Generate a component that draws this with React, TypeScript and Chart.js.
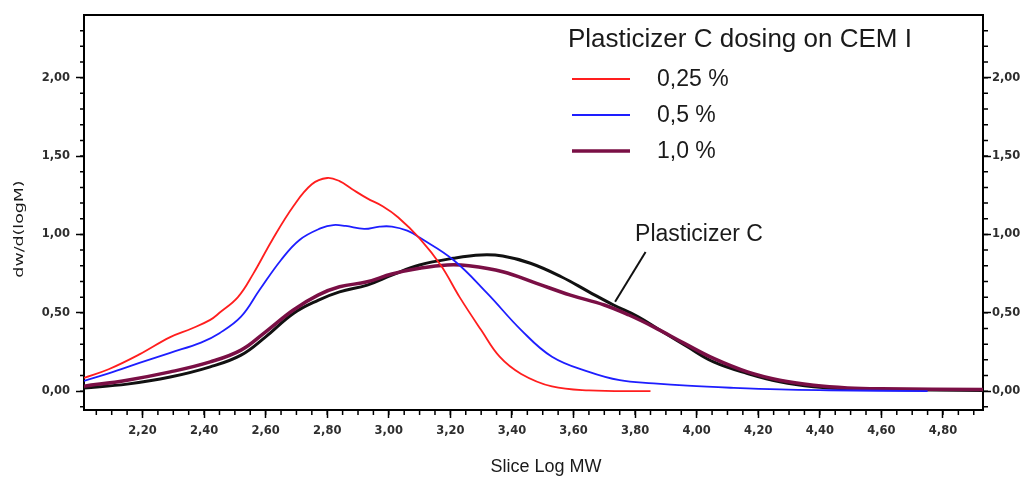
import React, { useEffect, useRef } from 'react';
import { Chart, registerables } from 'chart.js';

Chart.register(...registerables);

// Axis ranges (Slice Log MW on x, dw/d(logM) on y)
const X_MIN = 2.01;
const X_MAX = 4.93;
const Y_MIN = -0.12;
const Y_MAX = 2.4;

const xTickValues = [2.2, 2.4, 2.6, 2.8, 3.0, 3.2, 3.4, 3.6, 3.8, 4.0, 4.2, 4.4, 4.6, 4.8];
const yTickValues = [0, 0.5, 1.0, 1.5, 2.0];

// 0,25 % dosing
const logMW025 = [2.01, 2.09, 2.19, 2.29, 2.36, 2.42, 2.45, 2.51, 2.56, 2.62, 2.69, 2.75, 2.8, 2.84, 2.88, 2.93, 2.98, 3.03, 3.1, 3.17, 3.23, 3.3, 3.36, 3.43, 3.53, 3.65, 3.85];
const dw025 = [0.085, 0.14, 0.235, 0.345, 0.4, 0.455, 0.5, 0.6, 0.75, 0.96, 1.18, 1.32, 1.36, 1.34, 1.29, 1.23, 1.18, 1.11, 0.975, 0.8, 0.6, 0.39, 0.22, 0.11, 0.03, 0.005, 0.0];

// 0,5 % dosing
const logMW05 = [2.01, 2.09, 2.19, 2.29, 2.39, 2.45, 2.52, 2.58, 2.65, 2.71, 2.78, 2.82, 2.86, 2.92, 2.97, 3.01, 3.06, 3.1, 3.21, 3.32, 3.43, 3.53, 3.65, 3.75, 3.86, 3.97, 4.11, 4.27, 4.43, 4.75];
const dw05 = [0.066, 0.113, 0.18, 0.245, 0.31, 0.37, 0.475, 0.645, 0.837, 0.965, 1.04, 1.06, 1.054, 1.035, 1.05, 1.05, 1.024, 0.98, 0.837, 0.624, 0.39, 0.22, 0.123, 0.07, 0.05, 0.035, 0.022, 0.011, 0.006, 0.0];

// 1,0 % dosing
const logMW10 = [2.01, 2.15, 2.29, 2.42, 2.52, 2.6, 2.69, 2.77, 2.84, 2.93, 3.01, 3.1, 3.19, 3.26, 3.37, 3.48, 3.59, 3.7, 3.78, 3.86, 3.96, 4.055, 4.165, 4.27, 4.38, 4.49, 4.6, 4.93];
const dw10 = [0.032, 0.07, 0.123, 0.187, 0.262, 0.379, 0.518, 0.613, 0.666, 0.698, 0.748, 0.784, 0.805, 0.8, 0.762, 0.688, 0.613, 0.55, 0.486, 0.41, 0.305, 0.209, 0.123, 0.07, 0.038, 0.021, 0.015, 0.01];

// Plasticizer C reference
const logMWRef = [2.01, 2.15, 2.29, 2.42, 2.52, 2.6, 2.69, 2.77, 2.84, 2.93, 3.01, 3.1, 3.21, 3.3, 3.37, 3.46, 3.56, 3.65, 3.73, 3.81, 3.88, 3.97, 4.055, 4.165, 4.27, 4.38, 4.49, 4.6, 4.93];
const dwRef = [0.02, 0.045, 0.09, 0.155, 0.23, 0.347, 0.496, 0.58, 0.634, 0.677, 0.74, 0.805, 0.848, 0.869, 0.862, 0.816, 0.73, 0.634, 0.55, 0.475, 0.39, 0.283, 0.187, 0.113, 0.06, 0.028, 0.015, 0.01, 0.005];

const legendTitle = 'Plasticizer C dosing on CEM I';
const seriesLabels = ['0,25 %', '0,5 %', '1,0 %'];
const refLabel = 'Plasticizer C';
const xTitle = 'Slice Log MW';
const yTitle = 'dw/d(logM)';

// Callout: label anchor and leader line, in data units
const calloutText = { x: 3.8, y: 0.958 };
const calloutFrom = { x: 3.834, y: 0.888 };
const calloutTo = { x: 3.735, y: 0.57 };

const RED = '#ff1e1e';
const BLUE = '#1e1eff';
const MAROON = '#7a0f45';
const BLACK = '#111111';

const TICK_FONT = { family: '"DejaVu Sans", sans-serif', size: 11.5, weight: 'bold' as const };
const TICK_COLOR = '#2e2e2e';
const TEXT_FONT = '"Liberation Sans", Arial, sans-serif';

const pts = (xs: number[], ys: number[]) => xs.map((x, i) => ({ x, y: ys[i] }));
const fmt = (v: number) => Number(v).toFixed(2).replace('.', ',');

const decorPlugin = {
  id: 'decor',
  afterDraw(chart: any) {
    const { ctx, chartArea: a, scales } = chart;
    const xs = scales.x;
    const ys = scales.y;
    ctx.save();

    // minor tick marks
    ctx.strokeStyle = '#000';
    ctx.lineWidth = 1.5;
    ctx.beginPath();
    for (let k = 41; k * 0.05 <= X_MAX + 1e-9; k++) {
      const px = xs.getPixelForValue(k * 0.05);
      ctx.moveTo(px, a.bottom);
      ctx.lineTo(px, a.bottom + 5);
    }
    for (let k = -1; k * 0.1 <= Y_MAX - 0.05; k++) {
      const py = ys.getPixelForValue(k * 0.1);
      ctx.moveTo(a.left - 4, py);
      ctx.lineTo(a.left, py);
      ctx.moveTo(a.right, py);
      ctx.lineTo(a.right + 5, py);
    }
    ctx.stroke();

    // axis titles
    ctx.fillStyle = '#1a1a1a';
    ctx.font = `18px ${TEXT_FONT}`;
    ctx.textAlign = 'center';
    ctx.textBaseline = 'middle';
    ctx.fillText(xTitle, 546, 467);
    ctx.save();
    ctx.translate(20, 229);
    ctx.rotate(-Math.PI / 2);
    ctx.scale(1.45, 1);
    ctx.font = '12px "DejaVu Sans", sans-serif';
    ctx.fillText(yTitle, 0, 0);
    ctx.restore();

    // legend block
    ctx.textAlign = 'left';
    ctx.textBaseline = 'alphabetic';
    ctx.font = `26px ${TEXT_FONT}`;
    ctx.fillText(legendTitle, 568, 47);
    const entries = chart.data.datasets.filter((d: any) => d.inLegend);
    entries.forEach((d: any, i: number) => {
      const y = 79 + i * 36;
      ctx.strokeStyle = d.borderColor;
      ctx.lineWidth = d.borderWidth;
      ctx.beginPath();
      ctx.moveTo(572, y);
      ctx.lineTo(630, y);
      ctx.stroke();
      ctx.font = `23px ${TEXT_FONT}`;
      ctx.textBaseline = 'middle';
      ctx.fillText(d.label, 657, y + 1);
    });

    // callout for the reference curve
    ctx.strokeStyle = '#111';
    ctx.lineWidth = 2;
    ctx.beginPath();
    ctx.moveTo(xs.getPixelForValue(calloutFrom.x), ys.getPixelForValue(calloutFrom.y));
    ctx.lineTo(xs.getPixelForValue(calloutTo.x), ys.getPixelForValue(calloutTo.y));
    ctx.stroke();
    ctx.textBaseline = 'alphabetic';
    ctx.font = `23px ${TEXT_FONT}`;
    ctx.fillText(refLabel, xs.getPixelForValue(calloutText.x), ys.getPixelForValue(calloutText.y));

    ctx.restore();
  },
};

const axisGrid = {
  display: true,
  drawOnChartArea: false,
  drawTicks: true,
  tickLength: 8,
  tickColor: '#000',
  tickWidth: 1.5,
};
const axisBorder = { display: true, color: '#000', width: 2 };

export default function App() {
  const ref = useRef<HTMLCanvasElement>(null);

  useEffect(() => {
    if (!ref.current) return;
    const line = { pointRadius: 0, fill: false, tension: 0.4 };
    const chart = new Chart(ref.current, {
      type: 'line',
      data: {
        datasets: [
          { ...line, label: seriesLabels[0], data: pts(logMW025, dw025), borderColor: RED, borderWidth: 1.8, order: 1, inLegend: true } as any,
          { ...line, label: seriesLabels[1], data: pts(logMW05, dw05), borderColor: BLUE, borderWidth: 1.8, order: 2, inLegend: true } as any,
          { ...line, label: seriesLabels[2], data: pts(logMW10, dw10), borderColor: MAROON, borderWidth: 3.5, order: 3, inLegend: true } as any,
          { ...line, label: refLabel, data: pts(logMWRef, dwRef), borderColor: BLACK, borderWidth: 3, order: 4 } as any,
        ],
      },
      options: {
        animation: false,
        responsive: false,
        maintainAspectRatio: false,
        layout: { padding: 0 },
        plugins: { legend: { display: false }, title: { display: false }, tooltip: { enabled: false } },
        scales: {
          x: {
            type: 'linear',
            position: 'bottom',
            min: X_MIN,
            max: X_MAX,
            afterBuildTicks: (s: any) => { s.ticks = xTickValues.map((value) => ({ value })); },
            afterFit: (s: any) => { s.height = 69; },
            ticks: { font: TICK_FONT, color: TICK_COLOR, padding: 6, maxRotation: 0, autoSkip: false, callback: (v: any) => fmt(v) },
            grid: axisGrid,
            border: axisBorder,
          },
          xTop: {
            type: 'linear',
            position: 'top',
            min: X_MIN,
            max: X_MAX,
            afterFit: (s: any) => { s.height = 15; },
            ticks: { display: false },
            grid: { display: false },
            border: axisBorder,
          },
          y: {
            type: 'linear',
            position: 'left',
            min: Y_MIN,
            max: Y_MAX,
            afterBuildTicks: (s: any) => { s.ticks = yTickValues.map((value) => ({ value })); },
            afterFit: (s: any) => { s.width = 84; },
            ticks: { font: TICK_FONT, color: TICK_COLOR, padding: 6, callback: (v: any) => fmt(v) },
            grid: axisGrid,
            border: axisBorder,
          },
          yRight: {
            type: 'linear',
            position: 'right',
            min: Y_MIN,
            max: Y_MAX,
            afterBuildTicks: (s: any) => { s.ticks = yTickValues.map((value) => ({ value })); },
            afterFit: (s: any) => { s.width = 43; },
            ticks: { font: TICK_FONT, color: TICK_COLOR, padding: 1, callback: (v: any) => fmt(v) },
            grid: axisGrid,
            border: axisBorder,
          },
        },
      } as any,
      plugins: [decorPlugin],
    });
    return () => chart.destroy();
  }, []);

  return (
    <div style={{ position: 'absolute', left: 0, top: 0, width: 1026, height: 479, background: '#fff' }}>
      <canvas ref={ref} width={1026} height={479} style={{ display: 'block' }} />
    </div>
  );
}
